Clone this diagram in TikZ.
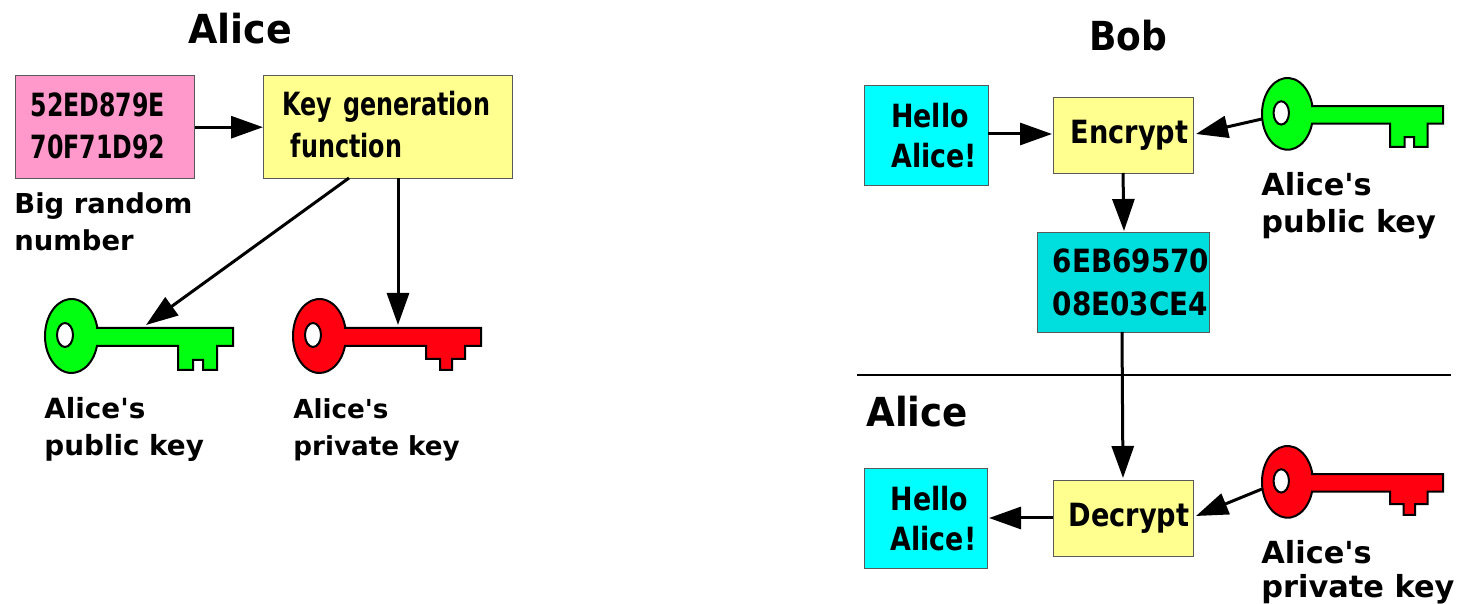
\documentclass[tikz,border=0pt]{standalone}
\usepackage{fontspec}
\setmainfont{DejaVu Sans Bold}
\usetikzlibrary{arrows.meta}
\newcommand{\tfl}[3]{\fontsize{#2}{#1}\selectfont\addfontfeature{FakeStretch=#3}}
\newcommand{\tf}[2]{\tfl{18.5pt}{#1}{#2}}
\definecolor{pinkbox}{HTML}{FF99CC}
\definecolor{yellowbox}{HTML}{FFFF8F}
\definecolor{cipherbox}{HTML}{00DDDD}
\definecolor{hellobox}{HTML}{00FFFF}
\definecolor{keygreen}{HTML}{00FF10}
\definecolor{keyred}{HTML}{FF0010}
\tikzset{
  boxy/.style={draw=black!65,line width=0.7pt,anchor=north west,inner ysep=0pt,align=left,text=black},
  conn/.style={line width=1.5pt,-{Triangle[length=16pt,width=11pt]}},
  caption/.style={anchor=west,inner sep=0pt,align=left},
  title/.style={anchor=base west,inner sep=0pt},
  keyline/.style={draw=black,line width=1pt,line join=miter},
  pics/pubkey/.style={code={
    \path[keyline,fill=keygreen] (52,29) -- (188,29) -- (188,47) -- (172,47) -- (172,71) -- (158,71) -- (158,61) -- (148,61) -- (148,71) -- (133,71) -- (133,47) -- (52,47)
      arc[start angle=15.7,end angle=344.3,x radius=26.5,y radius=37] -- cycle;
    \path[keyline,fill=white] (20,36) ellipse[x radius=8,y radius=12];
  }},
  pics/privkey/.style={code={
    \path[keyline,fill=keyred] (52,29) -- (188,29) -- (188,47) -- (172,47) -- (172,60) -- (159,60) -- (159,71) -- (147,71) -- (147,60) -- (133,60) -- (133,47) -- (52,47)
      arc[start angle=15.7,end angle=344.3,x radius=26.5,y radius=37] -- cycle;
    \path[keyline,fill=white] (20,36) ellipse[x radius=8,y radius=12];
  }}
}
\begin{document}
\begin{tikzpicture}[x=0.5pt,y=-0.5pt]
\useasboundingbox (0,0) rectangle (1464,604);
% Titles
\node[title,font=\tf{20pt}{0.95}] (t1) at (188,44) {Alice};
\node[title,font=\tf{20pt}{0.9}] (t2) at (1089,51) {Bob};
\node[title,font=\tf{20pt}{0.93}] (t3) at (866,427) {Alice};
% Left side boxes
\node[boxy,fill=pinkbox,minimum width=89.5pt,minimum height=51.5pt,inner xsep=7.5pt,text width=74.5pt,font=\tfl{21pt}{16pt}{0.74}] (rnd) at (15,75) {52ED879E\\70F71D92\rule[-2pt]{0pt}{0pt}};
\node[boxy,fill=yellowbox,minimum width=124.5pt,minimum height=51.5pt,inner xsep=9.5pt,text width=105.5pt,font=\tfl{21pt}{16pt}{0.745}] (gen) at (263,75) {\mbox{Key generation}\\\hspace*{4pt}function\rule[-3pt]{0pt}{0pt}};
\node[caption,font=\tf{13.7pt}{1}] (c1) at (14,222) {Big random\\number};
\pic at (45,299) {pubkey};
\pic at (293,299) {privkey};
\node[caption,font=\tf{13.9pt}{1}] (c2) at (44,429.5) {Alice\textquotesingle s\\public key};
\node[caption,font=\tf{13.1pt}{1}] (c3) at (293,430) {Alice\textquotesingle s\\private key};
\coordinate (pubend) at (146,325);
\coordinate (privend) at (398,325);
\coordinate (genA) at (349,178);
\coordinate (genB) at (398,178);
\draw[conn] (rnd.east) -- (gen.west);
\draw[conn] (genA) -- (pubend);
\draw[conn] (genB) -- (privend);
% Right side boxes
\node[boxy,fill=hellobox,minimum width=62pt,minimum height=50pt,inner xsep=13pt,text width=35.5pt,font=\tfl{20pt}{16pt}{0.84}] (h1) at (864,85) {Hello\\Alice!};
\node[boxy,fill=yellowbox,minimum width=70pt,minimum height=38pt,inner xsep=8.5pt,text width=53pt,font=\tf{16pt}{0.85}] (enc) at (1053,97) {Encrypt};
\node[boxy,fill=cipherbox,minimum width=86pt,minimum height=50pt,inner xsep=7.5pt,text width=71pt,font=\tfl{21.5pt}{16pt}{0.87}] (ciph) at (1037,232) {6EB69570\\08E03CE4};
\node[boxy,fill=yellowbox,minimum width=70pt,minimum height=38pt,inner xsep=7.5pt,text width=55pt,font=\tf{16pt}{0.85}] (dec) at (1053,480) {Decrypt};
\node[boxy,fill=hellobox,minimum width=61.5pt,minimum height=50pt,inner xsep=13pt,text width=35.5pt,font=\tfl{20pt}{16pt}{0.84}] (h2) at (864,468) {Hello\\Alice!};
\pic[xscale=0.963,yscale=0.97] at (1262,78) {pubkey};
\pic[xscale=0.963,yscale=0.97] at (1262,446) {privkey};
\node[caption,font=\tf{15.2pt}{1}] (c4) at (1261,206) {Alice\textquotesingle s\\public key};
\node[caption,font=\tfl{17pt}{15.2pt}{1}] (c5) at (1261,572.5) {Alice\textquotesingle s\\private key};
\coordinate (sepL) at (857,375);
\coordinate (sepR) at (1451,375);
\draw[line width=1pt] (sepL) -- (sepR);
\coordinate (k1) at (1262,119);
\coordinate (k1e) at (1196,134);
\coordinate (k2) at (1262,489);
\coordinate (k2e) at (1196,516);
\coordinate (e1) at (1123,173);
\coordinate (ci1) at (1124,231);
\coordinate (ci2) at (1122,332);
\coordinate (d1) at (1123,478);
\coordinate (d2) at (1053,518);
\coordinate (h2e) at (989,518);
\coordinate (h1s) at (988,134);
\coordinate (en1) at (1052,134);
\draw[conn] (h1s) -- (en1);
\draw[conn] (k1) -- (k1e);
\draw[conn] (e1) -- (ci1);
\draw[conn] (ci2) -- (d1);
\draw[conn] (d2) -- (h2e);
\draw[conn] (k2) -- (k2e);
\end{tikzpicture}
\end{document}
